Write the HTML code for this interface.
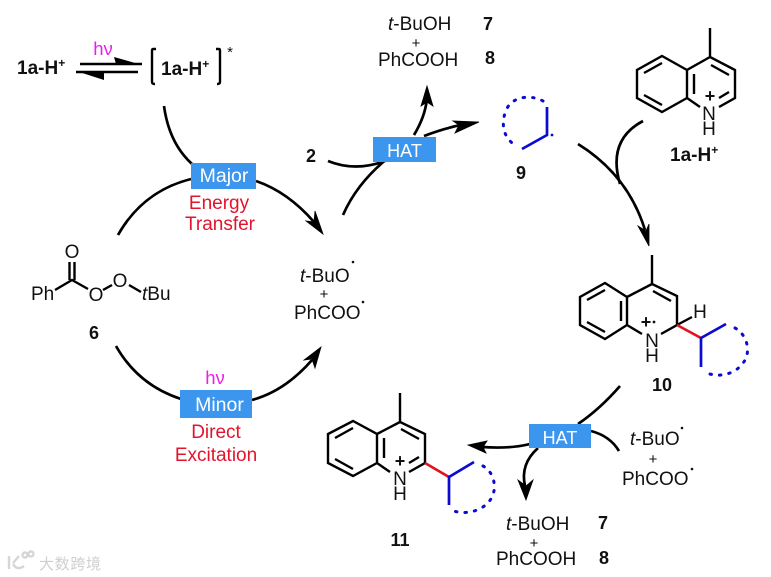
<!DOCTYPE html>
<html><head><meta charset="utf-8">
<style>
html,body{margin:0;padding:0;background:#fff}
svg{display:block;filter:blur(.35px)}
text{font-family:"Liberation Sans","Noto Sans CJK SC",sans-serif}
.n{font-size:19px;fill:#111}
.b{font-size:18px;font-weight:bold;fill:#111}
.l{font-size:19px;font-weight:bold;fill:#111}
.c{text-anchor:middle}
.w{font-size:19.5px;fill:#fff;text-anchor:middle}
.h{font-size:18px;fill:#fff;text-anchor:middle}
.r{font-size:19px;fill:#e2142d;text-anchor:middle}
.m{font-size:18.5px;fill:#e81fe8;text-anchor:middle}
.k{fill:none;stroke:#000;stroke-width:2.4}
.a{fill:none;stroke:#000;stroke-width:2.7}
.bl{fill:none;stroke:#0a0ad0;stroke-width:2.7}
.dt{fill:none;stroke:#0a0ad0;stroke-width:3;stroke-dasharray:1.5 8;stroke-linecap:round}
.red{fill:none;stroke:#e0141e;stroke-width:2.7}
.hd{fill:#000;stroke:#000;stroke-width:.8;stroke-linejoin:miter}
</style></head><body>
<svg width="771" height="577" viewBox="0 0 771 577" xmlns="http://www.w3.org/2000/svg">
<rect width="771" height="577" fill="#fff"/>

<!-- top left equilibrium -->
<text class="l" x="17" y="74">1a-H<tspan font-size="12" dy="-7">+</tspan></text>
<text class="m" x="103" y="55">hν</text>
<path class="k" d="M80 64H142M76 72H138" stroke-width="2"/>
<path d="M114 57L142 65L116 64Z M76 71L104 72L104 80Z" fill="#000"/>
<path class="k" d="M156 49H153Q152 49 152 51V82Q152 84 155 84M216 49H219Q220 49 220 51V82Q220 84 217 84"/>
<text class="l" x="161" y="75">1a-H<tspan font-size="12" dy="-7">+</tspan></text>
<text x="230" y="57" font-size="15" fill="#111" class="c">*</text>

<!-- major -->
<path class="a" d="M164 106Q169 143 192 164"/>
<path class="a" d="M118 235Q143 191 191 179"/>
<path class="a" d="M256 181Q288 192 314 222"/>
<path class="hd" d="M323 234L306 221L314 222L315 211Z"/>
<rect x="191" y="163" width="65" height="26" fill="#3c96ee"/>
<text class="w" x="224" y="182">Major</text>
<text class="r" x="219" y="209">Energy</text>
<text class="r" x="220" y="230">Transfer</text>

<!-- peroxide 6 -->
<text class="n c" x="72" y="258">O</text>
<path class="k" d="M69.5 262V280M74.5 262V280M55 290L72 280L88 289M103 290L112 285M129 285L141 292"/>
<text class="n" x="31" y="300">Ph</text>
<text class="n c" x="96" y="301">O</text>
<text class="n c" x="120" y="287">O</text>
<text class="n" x="142" y="300"><tspan font-style="italic">t</tspan>Bu</text>
<text class="b c" x="94" y="339">6</text>

<!-- minor -->
<path class="a" d="M116 346Q138 385 181 399"/>
<path class="a" d="M252 400Q285 391 312 360"/>
<path class="hd" d="M321 347L315 368L312 359L304 360Z"/>
<rect x="180" y="390" width="72" height="28" fill="#3c96ee"/>
<text class="w" x="219.500" y="411">Minor</text>
<text class="m" x="215" y="384">hν</text>
<text class="r" x="216" y="438">Direct</text>
<text class="r" x="216" y="461">Excitation</text>

<!-- centre radicals -->
<text class="n" x="300" y="282"><tspan font-style="italic">t</tspan>-BuO</text>
<circle cx="353" cy="262" r="1.3" fill="#111"/>
<text class="c" x="324" y="299" font-size="15" fill="#111">+</text>
<text class="n" x="294" y="319">PhCOO</text>
<circle cx="363" cy="302" r="1.3" fill="#111"/>

<!-- top HAT -->
<text class="b" x="306" y="162">2</text>
<path class="a" d="M328 161Q355 172 385 161"/>
<path class="a" d="M343 215Q357 183 388 158"/>
<path class="a" d="M414 135Q426 115 427 97"/>
<path class="hd" d="M427 86L433 106L427 102L421 106Z"/>
<path class="a" d="M424 136Q445 128 465 124"/>
<path class="hd" d="M479 122L455 133L459 125L453 121Z"/>
<rect x="373" y="137" width="63" height="25" fill="#3c96ee"/>
<text class="h" x="404.500" y="157">HAT</text>
<text class="n" x="388" y="30"><tspan font-style="italic">t</tspan>-BuOH</text>
<text class="c" x="416" y="48" font-size="15" fill="#111">+</text>
<text class="n" x="378" y="66">PhCOOH</text>
<text class="b" x="483" y="30">7</text>
<text class="b" x="485" y="64">8</text>

<!-- 9 -->
<path class="dt" d="M543 101C530 94 510 96 505 113C500 130 507 140 516 146"/>
<path class="bl" d="M547 107V135L522 149"/>
<circle cx="552" cy="135" r="1.4" fill="#0a0ad0"/>
<text class="b c" x="521" y="179">9</text>

<!-- 1a-H+ -->
<path d="M710 28V57L735 70V98L719 107M700 107L687 98V70L710 57M687 70L662 56L637 70V98L662 112L687 98M662 63L644 73M644 95L662 105M694 74V94M711 65L729 75M729 92L719 98" fill="none" stroke="#000" stroke-width="2.4"/>
<text class="n c" x="709" y="120" font-size="18">N</text>
<text class="n c" x="709" y="135">H</text>
<text class="b c" x="710" y="102">+</text>
<text class="l" x="670" y="161">1a-H<tspan font-size="12" dy="-7">+</tspan></text>

<!-- arrow to 10 -->
<path class="a" d="M578 144Q628 175 645 230"/>
<path class="hd" d="M649 246L638 226L646 231L649 224Z"/>
<path class="a" d="M643 121Q607 140 620 184"/>

<!-- 10 -->
<path d="M652 255V284L677 296V325L661 334M642 334L627 325V297L605 283L580 297V325L605 339L627 325M627 297L652 284M605 290L587 300M587 322L605 332M621 301V321M653 291L671 301M677 325L692 317" fill="none" stroke="#000" stroke-width="2.4"/>
<text class="n c" x="652" y="347">N</text>
<text class="n c" x="652" y="362">H</text>
<text class="n c" x="700" y="318">H</text>
<text class="b c" x="646" y="328">+</text>
<circle cx="654" cy="322" r="1.4" fill="#111"/>
<path class="red" d="M677 325L701 338"/>
<path class="bl" d="M726 324L701 338V367"/>
<path class="dt" d="M735 328C746 334 750 348 746 358C740 372 722 379 707 373"/>
<text class="b c" x="662" y="391">10</text>

<!-- lower HAT -->
<path class="a" d="M620 386Q600 409 578 424"/>
<path class="a" d="M619 451Q610 436 591 431"/>
<path class="a" d="M530 444Q510 449 482 447"/>
<path class="hd" d="M468 445L487 441L483 447L486 453Z"/>
<path class="a" d="M538 448Q520 464 525 486"/>
<path class="hd" d="M526 500L518 480L526 486L533 480Z"/>
<rect x="529" y="424" width="62" height="24" fill="#3c96ee"/>
<text class="h" x="560" y="444">HAT</text>
<text class="n" x="630" y="445"><tspan font-style="italic">t</tspan>-BuO</text>
<circle cx="682" cy="428" r="1.3" fill="#111"/>
<text class="c" x="653" y="464" font-size="15" fill="#111">+</text>
<text class="n" x="622" y="485">PhCOO</text>
<circle cx="692" cy="469" r="1.3" fill="#111"/>
<text class="n" x="506" y="530"><tspan font-style="italic">t</tspan>-BuOH</text>
<text class="c" x="534" y="548" font-size="15" fill="#111">+</text>
<text class="n" x="496" y="565">PhCOOH</text>
<text class="b" x="598" y="529">7</text>
<text class="b" x="599" y="564">8</text>

<!-- 11 -->
<path d="M400 393V422L425 434V463L409 472M390 472L377 463V434L353 421L328 434V463L353 476L377 463M377 434L400 422M353 428L335 438M335 459L353 469M384 438V458M401 429L419 439M419 457L409 463" fill="none" stroke="#000" stroke-width="2.4"/>
<text class="n c" x="400" y="485">N</text>
<text class="n c" x="400" y="500">H</text>
<text class="b c" x="400" y="467">+</text>
<path class="red" d="M425 463L449 477"/>
<path class="bl" d="M474 462L449 477V505"/>
<path class="dt" d="M483 466C494 472 497 487 492 497C485 511 465 516 451 510"/>
<text class="b c" x="400" y="546">11</text>

<!-- watermark -->
<g fill="none" stroke="#d6d6d6" stroke-width="2.4">
<path d="M9 556V569M13 563L19 556M13 564Q17 571 24 566"/>
<circle cx="25" cy="555" r="2.5"/><circle cx="31" cy="554" r="2.5"/>
</g>
<text x="39" y="569" font-size="15" fill="#cfcfcf" textLength="62">大数跨境</text>
</svg>
</body></html>
